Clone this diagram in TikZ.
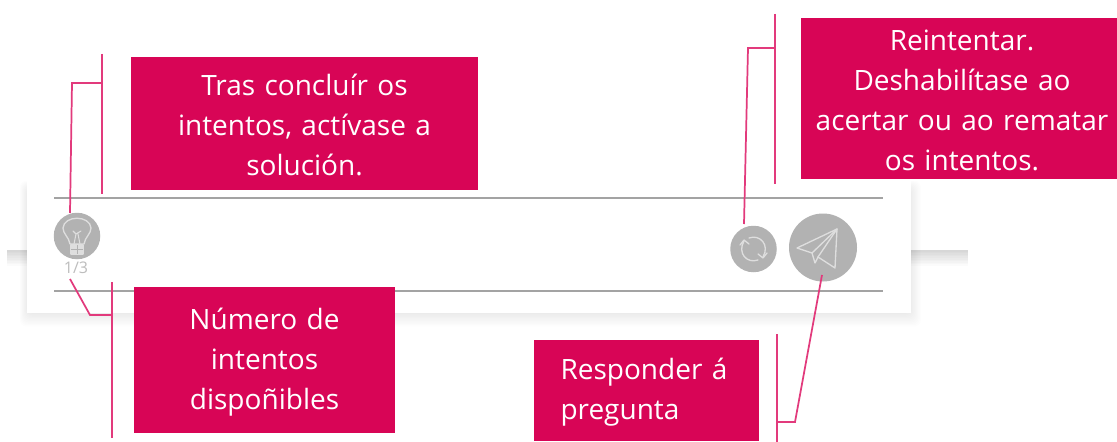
\documentclass[tikz,border=0pt]{standalone}
\usepackage{fontspec}
\setmainfont{Open Sans}
\definecolor{crimson}{HTML}{D80556}
\definecolor{linepink}{HTML}{E23A7C}
\definecolor{icongrey}{HTML}{B2B2B2}
\definecolor{rulegrey}{HTML}{A3A3A3}
\definecolor{glyphgrey}{HTML}{DEDEDE}
\tikzset{
  callouttext/.style={text=white,inner sep=0pt,align=center,font=\fontsize{21}{30}\selectfont},
  leader/.style={draw=linepink,line width=1.3pt},
  rulerline/.style={draw=rulegrey,line width=1.5pt},
  iconcircle/.style={circle,fill=icongrey,draw=none,inner sep=0pt},
  glyph/.style={draw=glyphgrey,line width=1pt,line join=round,line cap=round},
}
\begin{document}
\begin{tikzpicture}[x=0.75pt,y=-0.75pt]
\useasboundingbox (0,0) rectangle (1117,442);
\fill[white] (0,0) rectangle (1117,442);
% background band, dark at its top edge and fading downward
\foreach \i in {1,...,10}{
  \fill[black,opacity=0.014] (7,250) rectangle (968,{250+\i*1.6});
}
% card shadow
\foreach \i in {0,...,9}{
  \fill[black,opacity=0.009,rounded corners=5pt] ({27-\i*0.8},{188-\i*0.8}) rectangle ({911+\i*1.1},{314+\i*1.4});
}
\fill[white] (27,178) rectangle (911,313);
% rulers
\coordinate (r1a) at (54,198); \coordinate (r1b) at (883,198);
\coordinate (r2a) at (54,291); \coordinate (r2b) at (883,291);
\draw[rulerline] (r1a) -- (r1b);
\draw[rulerline] (r2a) -- (r2b);
% icons
\node[iconcircle,minimum size=46.5*0.75pt] (bulb) at (77,236) {};
\node[iconcircle,minimum size=46.5*0.75pt] (retry) at (753.5,249) {};
\node[iconcircle,minimum size=68*0.75pt] (send) at (823,247.5) {};
\node[text=icongrey!85!white,font=\fontsize{12}{14}\selectfont,inner sep=0pt] (count) at (76,268) {1/3};
% bulb glyph
\draw[glyph] (70,244) .. controls (69,237) and (63,234) .. (63,228) .. controls (64,215) and (90,215) .. (91,228) .. controls (91,234) and (85,237) .. (84,244) -- cycle;
\draw[glyph,line width=0.8pt] (74,244) -- (76,234) -- (73,231) (76,234) -- (81,231) (78,234) -- (80,244);
\draw[glyph,fill=glyphgrey] (71,245) rectangle (83,254);
\draw[icongrey,line width=0.7pt] (71,249.5) -- (83,249.5) (77,245) -- (77,254);
% retry glyph
\draw[glyph] (749,238) .. controls (760,234) and (770,245) .. (763,257);
\draw[glyph] (767,253) -- (763,258) -- (758,254);
\draw[glyph] (758,260) .. controls (747,264) and (737,253) .. (744,241);
\draw[glyph] (740,245) -- (744,240) -- (749,244);
% send glyph
\draw[glyph] (797,248) -- (837,229) -- (835,268) -- (818,257) -- (815,263) -- (812,253) -- cycle;
\draw[glyph] (837,229) -- (812,253);
\draw[glyph] (837,229) -- (818,257);
% callouts
\path (131,57) coordinate (a1) (478,190) coordinate (a2);
\fill[crimson] (a1) rectangle (a2);
\node[callouttext,text width=345*0.75pt] (solution) at (304.5,125) {Tras concluír os\\intentos, actívase a\\solución.};
\path (801,18) coordinate (c1) (1117,179) coordinate (c2);
\fill[crimson] (c1) rectangle (c2);
\node[callouttext,text width=314*0.75pt] (retrybox) at (962,100) {Reintentar.\\Deshabilítase ao\\acertar ou ao rematar\\os intentos.};
\path (134,287) coordinate (e1) (395,433) coordinate (e2);
\fill[crimson] (e1) rectangle (e2);
\node[callouttext,text width=258*0.75pt] (attempts) at (264.5,362) {Número de\\intentos\\dispoñibles};
\path (534,340) coordinate (g1) (759,441) coordinate (g2);
\fill[crimson] (g1) rectangle (g2);
\node[callouttext,text width=195*0.75pt,align=left] (answer) at (658,392) {Responder á\\pregunta};
% leaders
\coordinate (b1) at (102,83); \coordinate (b1t) at (102,54); \coordinate (b1b) at (102,194);
\coordinate (k1) at (72,83); \coordinate (s1) at (70,213);
\draw[leader] (b1t) -- (b1b);
\draw[leader] (s1) -- (k1) -- (b1);
\coordinate (b2) at (775,48); \coordinate (b2t) at (775,14); \coordinate (b2b) at (775,184);
\coordinate (k2) at (748,48); \coordinate (s2) at (744,224);
\draw[leader] (b2t) -- (b2b);
\draw[leader] (s2) -- (k2) -- (b2);
\coordinate (b3) at (112,315); \coordinate (b3t) at (112,282); \coordinate (b3b) at (112,438);
\coordinate (k3) at (90,315); \coordinate (s3) at (70,279);
\draw[leader] (b3t) -- (b3b);
\draw[leader] (s3) -- (k3) -- (b3);
\coordinate (b4) at (777,422); \coordinate (b4t) at (777,334); \coordinate (b4b) at (777,442);
\coordinate (k4) at (795,422); \coordinate (s4) at (822,275);
\draw[leader] (b4t) -- (b4b);
\draw[leader] (s4) -- (k4) -- (b4);
\end{tikzpicture}
\end{document}
